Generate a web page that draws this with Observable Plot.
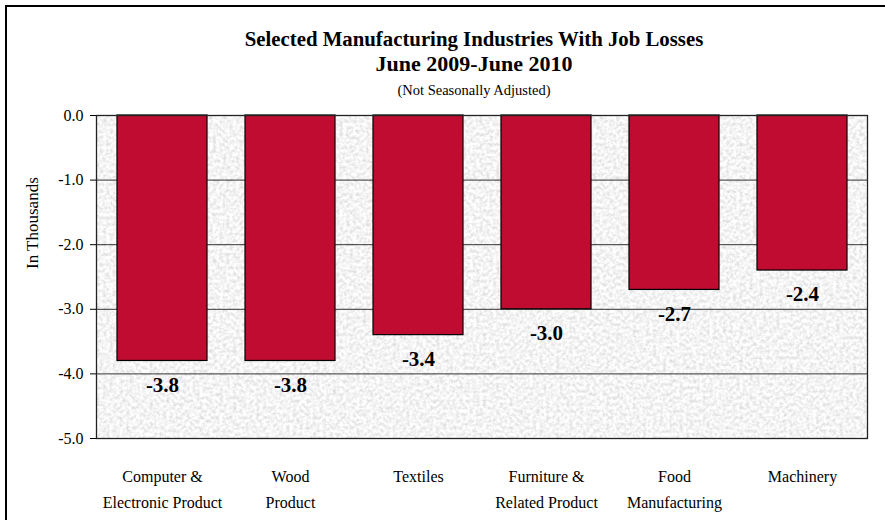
<!DOCTYPE html>
<html>
<head>
<meta charset="utf-8">
<script src="https://cdn.jsdelivr.net/npm/d3@7"></script>
<script src="https://cdn.jsdelivr.net/npm/@observablehq/plot@0.6"></script>
<style>
  html, body { margin: 0; padding: 0; background: #fff; overflow: hidden; }
  #wrap { position: relative; width: 885px; height: 520px; overflow: hidden; font-family: "Liberation Serif", "Times New Roman", serif; color: #000; }
  #border { position: absolute; left: 5px; top: 5px; width: 1000px; height: 1000px; border-top: 2px solid #000; border-left: 2px solid #000; }
  #titles { position: relative; height: 100px; }
  .t { position: absolute; left: 474px; transform: translateX(-50%); white-space: nowrap; line-height: 1; }
  #t1 { top: 28.5px; font-size: 20.8px; font-weight: bold; }
  #t2 { top: 53px; font-size: 22px; font-weight: bold; }
  #t3 { top: 83px; font-size: 14.5px; }
  #chart { position: relative; }
  #chart svg, #chart svg text { font-family: "Liberation Serif", "Times New Roman", serif !important; }
</style>
</head>
<body>
<div id="wrap">
  <div id="border"></div>
  <div id="titles">
    <div class="t" id="t1">Selected Manufacturing Industries With Job Losses</div>
    <div class="t" id="t2">June 2009-June 2010</div>
    <div class="t" id="t3">(Not Seasonally Adjusted)</div>
  </div>
  <div id="chart"></div>
</div>
<script>
const categories = [
  "Computer &\nElectronic Product",
  "Wood\nProduct",
  "Textiles",
  "Furniture &\nRelated Product",
  "Food\nManufacturing",
  "Machinery"
];
const values = [-3.8, -3.8, -3.4, -3.0, -2.7, -2.4];
const yTicks = [0, -1, -2, -3, -4, -5];
const yLabel = "In Thousands";

const fmt = d => d.toFixed(1);
const serif = "'Liberation Serif', 'Times New Roman', serif";

// granite-like background texture over the frame area
function texture(index, scales, vals, dims) {
  const ns = "http://www.w3.org/2000/svg";
  const g = document.createElementNS(ns, "g");
  const x = dims.marginLeft, y = dims.marginTop;
  const w = dims.width - dims.marginLeft - dims.marginRight;
  const h = dims.height - dims.marginTop - dims.marginBottom;
  g.innerHTML =
    `<defs><filter id="granite" x="0" y="0" width="100%" height="100%" filterUnits="objectBoundingBox">
      <feTurbulence type="fractalNoise" baseFrequency="0.3" numOctaves="4" seed="11"/>
      <feColorMatrix type="matrix" values="0.55 0 0 0 0.63  0.55 0 0 0 0.63  0.55 0 0 0 0.63  0 0 0 0 1"/>
    </filter></defs>
    <rect x="${x}" y="${y}" width="${w}" height="${h}" fill="#e2e2e2" filter="url(#granite)"/>`;
  return g;
}

const chart = Plot.plot({
  width: 885,
  height: 420,
  marginTop: 15,
  marginBottom: 82,
  marginLeft: 96,
  marginRight: 18,
  style: { fontFamily: serif, color: "#000", background: "transparent", overflow: "visible" },
  x: { domain: categories, paddingInner: 0.3, paddingOuter: 0.15, label: null, axis: null },
  y: { domain: [-5, 0], label: null, axis: null },
  marks: [
    texture,
    Plot.ruleY(yTicks, { stroke: "#333", strokeWidth: 1 }),
    Plot.barY(values, { x: (d, i) => categories[i], y: d => d, fill: "#C00C30", stroke: "#000", strokeWidth: 1.2 }),
    Plot.text(values, { x: (d, i) => categories[i], y: d => d, text: fmt, lineAnchor: "top", dy: 16, fontWeight: "bold", fontSize: 21, fill: "#000", fontFamily: serif }),
    Plot.frame({ stroke: "#222", strokeWidth: 1.3 }),
    Plot.axisY({ ticks: yTicks, tickFormat: fmt, tickSize: 6, tickPadding: 7, fontSize: 16, label: null, stroke: "#000", fontFamily: serif }),
    Plot.axisX({ tickSize: 0, tickPadding: 25, fontSize: 16, lineHeight: 1.625, label: null, fontFamily: serif }),
    Plot.text([yLabel], { frameAnchor: "left", rotate: -90, dx: -64, dy: -8, fontSize: 17, fill: "#000", fontFamily: serif })
  ]
});
document.getElementById("chart").appendChild(chart);
</script>
</body>
</html>
